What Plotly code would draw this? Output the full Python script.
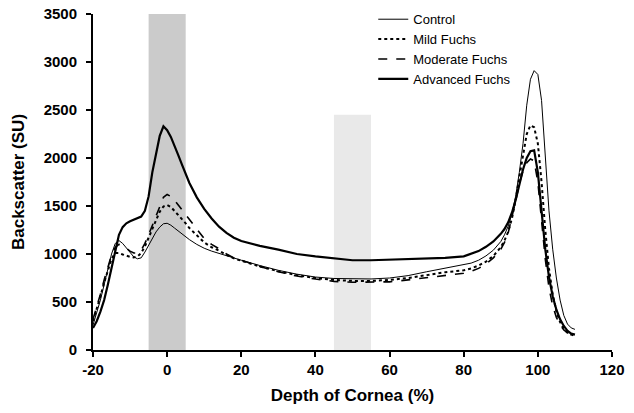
import plotly.graph_objects as go

depth = [-20,-19,-18,-17,-16,-15,-14,-13,-12,-11,-10,-9,-8,-7,-6,-5,-4,-3,-2,-1,0,1,2,3,4,5,6,8,10,12,14,16,18,20,25,30,35,40,45,50,55,60,65,70,75,80,82,84,86,88,90,91,92,93,94,95,96,97,98,99,100,101,102,103,104,105,106,107,108,109,110]

control = [260,380,520,680,850,1000,1110,1140,1110,1060,1010,970,950,960,1020,1090,1160,1230,1280,1315,1320,1300,1270,1240,1210,1180,1150,1100,1060,1030,1005,980,955,935,880,830,790,760,745,740,740,750,775,815,850,885,905,935,980,1040,1130,1200,1290,1420,1600,1850,2150,2550,2820,2910,2870,2600,2050,1450,1050,750,520,360,270,230,215]

mild = [300,420,560,700,830,950,1010,1010,995,980,970,965,975,1010,1080,1170,1260,1360,1440,1495,1510,1490,1450,1410,1370,1320,1270,1190,1120,1070,1035,990,955,930,870,820,780,750,730,720,720,730,750,780,810,830,850,880,920,980,1070,1140,1230,1370,1560,1800,2050,2250,2340,2320,2150,1750,1250,850,580,400,290,220,180,160,150]

moderate = [320,440,580,730,870,990,1070,1100,1090,1060,1030,1010,1010,1040,1110,1200,1300,1410,1510,1590,1620,1600,1560,1510,1460,1410,1350,1250,1160,1100,1055,1000,960,935,870,815,770,740,715,705,705,710,730,755,780,800,820,850,895,960,1050,1120,1220,1370,1550,1730,1870,1950,1990,1970,1750,1350,950,650,460,340,260,210,180,165,155]

advanced = [230,300,400,520,680,860,1050,1200,1280,1320,1340,1355,1370,1390,1450,1600,1850,2050,2230,2330,2290,2220,2130,2030,1930,1830,1740,1590,1470,1370,1285,1220,1170,1135,1085,1045,1000,975,955,935,935,940,950,955,960,975,1000,1030,1075,1130,1210,1260,1330,1430,1560,1720,1880,2000,2070,2080,1850,1450,1050,760,560,420,320,250,200,170,160]

series_names = ["Control", "Mild Fuchs", "Moderate Fuchs", "Advanced Fuchs"]
band_dark = [-5, 5, 3500]
band_light = [45, 55, 2450]
x_ticks = [-20, 0, 20, 40, 60, 80, 100, 120]
x_tick_text = ["-20", "0", "20", "40", "60", "80", "100", "120"]
y_ticks = [0, 500, 1000, 1500, 2000, 2500, 3000, 3500]

fig = go.Figure()
styles = [
    dict(color="black", width=1, dash="solid"),
    dict(color="black", width=2, dash="dot"),
    dict(color="black", width=1.6, dash="dash"),
    dict(color="black", width=2.2, dash="solid"),
]
for name, ys, st in zip(series_names, [control, mild, moderate, advanced], styles):
    fig.add_trace(go.Scatter(x=depth, y=ys, mode="lines", name=name, line=st))

fig.add_shape(type="rect", x0=band_dark[0], x1=band_dark[1], y0=0, y1=band_dark[2],
              fillcolor="#cbcbcb", line_width=0, layer="below")
fig.add_shape(type="rect", x0=band_light[0], x1=band_light[1], y0=0, y1=band_light[2],
              fillcolor="#e9e9e9", line_width=0, layer="below")

font_family = "Liberation Sans, Arial, sans-serif"
fig.update_layout(
    width=634, height=413,
    margin=dict(l=93, r=22, t=14, b=63, autoexpand=False),
    plot_bgcolor="white", paper_bgcolor="white",
    font=dict(family=font_family, color="black"),
    showlegend=True,
    legend=dict(x=0.54, y=1.029, xanchor="left", yanchor="top",
                font=dict(size=13, family=font_family),
                bgcolor="rgba(0,0,0,0)", tracegroupgap=0, itemwidth=30),
    xaxis=dict(range=[-20, 120], tickvals=x_ticks, ticktext=x_tick_text,
               showgrid=False, zeroline=False, automargin=False,
               showline=True, linecolor="black", linewidth=2,
               ticks="outside", ticklen=5, tickwidth=2, tickcolor="black",
               ticklabeloverflow="allow",
               tickfont=dict(size=15, weight="bold"),
               title=dict(text="Depth of Cornea (%)", font=dict(size=17, weight="bold"), standoff=12)),
    yaxis=dict(range=[0, 3500], tickvals=y_ticks, showgrid=False, zeroline=False, automargin=False,
               showline=True, linecolor="black", linewidth=2,
               ticks="outside", ticklen=5, tickwidth=2, tickcolor="black",
               ticklabelstandoff=6, ticklabeloverflow="allow",
               tickfont=dict(size=15, weight="bold"),
               title=dict(text="Backscatter (SU)", font=dict(size=17, weight="bold"), standoff=15)),
)

fig.write_html("out.html", config={"displayModeBar": False},
               post_script="document.body.style.margin='0';")
